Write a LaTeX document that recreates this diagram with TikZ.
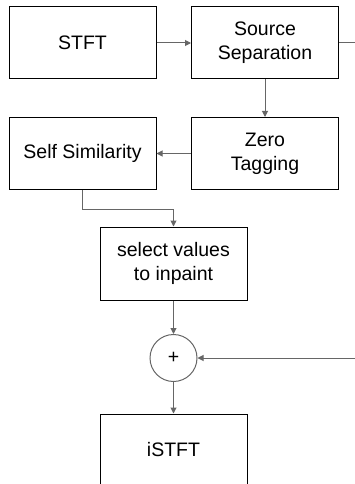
\documentclass[tikz,border=0pt]{standalone}
\usepackage{fontspec}
\setmainfont{Liberation Sans}
\usetikzlibrary{arrows.meta}
\definecolor{arrowgray}{HTML}{666666}
\tikzset{
  blockbox/.style={draw=black, line width=1pt, minimum width=147pt, minimum height=72pt, inner sep=0pt, align=center, font=\fontsize{19.5}{24}\selectfont},
  sumnode/.style={draw=arrowgray, line width=1pt, circle, minimum size=47pt, inner sep=0pt, font=\fontsize{19.5}{24}\selectfont},
  flow/.style={draw=arrowgray, line width=1pt, -{Triangle[length=6pt,width=6pt]}},
  plainflow/.style={draw=arrowgray, line width=1pt}
}
\begin{document}
\begin{tikzpicture}[x=1pt,y=-1pt]
\useasboundingbox (0,0) rectangle (355,484);
\clip (0,0) rectangle (355,484);
\node[blockbox] (stft) at (82.5,43) {STFT};
\node[blockbox] (sep) at (265,43) {Source\\Separation};
\node[blockbox] (zero) at (265,153.5) {Zero\\Tagging};
\node[blockbox] (self) at (82.5,153.5) {Self Similarity};
\node[blockbox, minimum height=73pt] (select) at (173.5,263.5) {select values\\to inpaint};
\node[sumnode] (plus) at (173.5,358) {+};
\node[blockbox] (istft) at (173.5,450) {iSTFT};
\coordinate (outR) at (356,43);
\coordinate (inR) at (356,358);
\draw[flow] (stft) -- (sep);
\draw[plainflow] (sep.east) -- (outR);
\draw[flow] (sep) -- (zero);
\draw[flow] (zero) -- (self);
\draw[flow] (self.south) -- ++(0,19) -| (select.north);
\draw[flow] (select) -- (plus);
\draw[flow] (inR) -- (plus.east);
\draw[flow] (plus) -- (istft);
\end{tikzpicture}
\end{document}
